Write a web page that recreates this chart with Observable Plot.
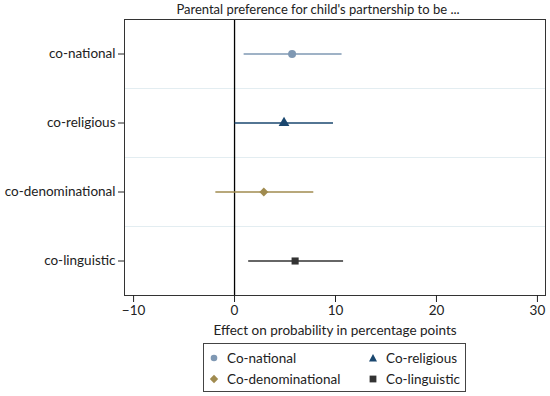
<!DOCTYPE html>
<html>
<head>
<meta charset="utf-8">
<script src="https://cdn.jsdelivr.net/npm/d3@7"></script>
<script src="https://cdn.jsdelivr.net/npm/@observablehq/plot@0.6"></script>
<style>
  body { margin: 0; background: #fff; font-family: Lato, "Open Sans", sans-serif; }
  #wrap { position: relative; width: 550px; height: 396px; overflow: hidden; }
  #title { position: absolute; top: 0; left: 0; width: 550px; padding-left: 86px; box-sizing: border-box; text-align: center; font-size: 13px; line-height: 18px; color: #222; }
  #chart { position: absolute; top: 0; left: 0; }
  #legend { position: absolute; left: 203px; top: 343px; width: 263px; height: 49px; box-sizing: border-box; border: 1px solid #444; font-size: 13.5px; color: #222; }
  .item { position: absolute; display: flex; align-items: center; height: 18px; }
  .item svg { margin-right: 7px; }
</style>
</head>
<body>
<div id="wrap">
  <div id="chart"></div>
  <div id="title">Parental preference for child's partnership to be ...</div>
  <div id="legend"></div>
</div>
<script>
const categories = ["co-national", "co-religious", "co-denominational", "co-linguistic"];
const legendLabels = ["Co-national", "Co-religious", "Co-denominational", "Co-linguistic"];
const estimates = [5.7, 4.9, 2.9, 6.0];
const lowerCI = [0.9, 0.0, -1.9, 1.35];
const upperCI = [10.6, 9.75, 7.8, 10.75];
const symbols = ["circle", "triangle", "diamond2", "square"];
const colors = ["#7f98b3", "#1a476f", "#a08b4f", "#333333"];
const xTicks = [-10, 0, 10, 20, 30];
const separators = [1.5, 2.5, 3.5];

const data = categories.map((c, i) => ({
  cat: c, idx: i + 1, est: estimates[i], lo: lowerCI[i], hi: upperCI[i],
  symbol: symbols[i], color: colors[i]
}));

const chart = Plot.plot({
  width: 550,
  height: 342,
  marginTop: 19,
  marginBottom: 47,
  marginLeft: 124,
  marginRight: 5,
  style: { fontFamily: "Lato, 'Open Sans', sans-serif", fontSize: "13.5px", color: "#222", background: "transparent" },
  x: { domain: [-10.9, 30.8] },
  y: { domain: [0.5, 4.5], reverse: true },
  symbol: { type: "identity" },
  color: { type: "identity" },
  marks: [
    Plot.ruleY(separators, { stroke: "#e3edf1", strokeWidth: 1 }),
    Plot.ruleX([0], { stroke: "#000", strokeWidth: 1.3 }),
    Plot.link(data, { x1: "lo", x2: "hi", y1: "idx", y2: "idx", stroke: d => d.color, strokeWidth: 1.5 }),
    Plot.dot(data, { x: "est", y: "idx", symbol: d => d.symbol, fill: d => d.color, stroke: "none", r: 4 }),
    Plot.frame({ stroke: "#333", strokeWidth: 1 }),
    Plot.axisX({ ticks: xTicks, tickSize: 7, tickPadding: 3, label: "Effect on probability in percentage points", labelAnchor: "center", labelArrow: "none", labelOffset: 39, fontSize: 13.5 }),
    Plot.axisY({ ticks: [1, 2, 3, 4], tickFormat: d => categories[d - 1], tickSize: 6, tickPadding: 3, label: null, fontSize: 13.5 })
  ]
});
document.getElementById("chart").appendChild(chart);

// legend
const legend = document.getElementById("legend");
const pos = [[4, 5], [163, 5], [4, 26], [163, 26]];
const symPaths = {
  circle: '<circle cx="6" cy="6" r="3.3"/>',
  triangle: '<path d="M6,2 L10,9.5 L2,9.5 Z"/>',
  diamond2: '<path d="M6,1.8 L10.2,6 L6,10.2 L1.8,6 Z"/>',
  square: '<rect x="2.6" y="2.6" width="6.8" height="6.8"/>'
};
legendLabels.forEach((lab, i) => {
  const el = document.createElement("div");
  el.className = "item";
  el.style.left = pos[i][0] + "px";
  el.style.top = pos[i][1] + "px";
  el.innerHTML = `<svg width="12" height="12" fill="${colors[i]}">${symPaths[symbols[i]]}</svg><span>${lab}</span>`;
  legend.appendChild(el);
});
</script>
</body>
</html>
